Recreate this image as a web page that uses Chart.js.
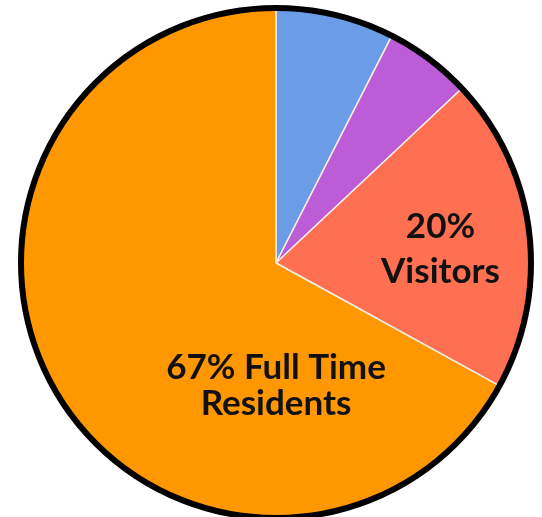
<!DOCTYPE html>
<html>
<head>
<meta charset="utf-8">
<style>
  html, body { margin: 0; padding: 0; background: #fff; }
  #wrap { width: 542px; height: 517px; }
</style>
</head>
<body>
<div id="wrap"><canvas id="_chart" width="542" height="517"></canvas></div>

<script src="https://cdn.jsdelivr.net/npm/chart.js"></script>
<script>
// data, clockwise from 12 o'clock
const groups  = ['Other A', 'Other B', 'Visitors', 'Full Time Residents'];
const shares  = [7.5, 5.5, 20, 67];
const colours = ['#6b9de7', '#bc5dd7', '#ff6f52', '#ff9700'];

// labels written on the slices (index into groups -> lines of text)
const sliceText = {
	2: ['20%', 'Visitors'],
	3: ['67% Full Time', 'Residents']
};

// black rim around the whole pie
const rimPlugin = {
	id: 'rim',
	afterDatasetsDraw(chart) {
		const arc = chart.getDatasetMeta(0).data[0];
		if (!arc) return;
		const ctx = chart.ctx;
		ctx.save();
		ctx.beginPath();
		ctx.arc(arc.x, arc.y, arc.outerRadius, 0, Math.PI * 2);
		ctx.lineWidth = 6;
		ctx.strokeStyle = '#000';
		ctx.stroke();
		ctx.restore();
	}
};

// text on the slices, placed relative to the pie centre and radius
const textPlugin = {
	id: 'sliceText',
	afterDatasetsDraw(chart, args, opts) {
		const arcs = chart.getDatasetMeta(0).data;
		const ctx = chart.ctx;
		ctx.save();
		ctx.fillStyle = '#111';
		ctx.textAlign = 'center';
		ctx.textBaseline = 'alphabetic';
		ctx.font = 'bold 35px Lato';
		for (const i in sliceText) {
			const arc = arcs[i];
			const place = opts.places[i];
			const x = arc.x + place.dx * arc.outerRadius;
			let y = arc.y + place.dy * arc.outerRadius;
			for (const line of sliceText[i]) {
				ctx.fillText(line, x, y);
				y += place.lead;
			}
		}
		ctx.restore();
	}
};

var chart = new Chart(_chart, {
	type: 'pie',
	data: {
		labels: groups,
		datasets: [{
			data: shares,
			backgroundColor: colours,
			borderColor: '#f6eee2',
			borderWidth: 1.5,
			radius: 255
		}]
	},
	options: {
		responsive: false,
		animation: false,
		layout: { padding: { left: 10, top: 9 } },
		plugins: {
			legend: { display: false },
			tooltip: { enabled: false },
			sliceText: {
				places: {
					2: { dx: 0.645, dy: -0.10, lead: 45 },
					3: { dx: 0.0, dy: 0.455, lead: 36 }
				}
			}
		}
	},
	plugins: [rimPlugin, textPlugin]
});
</script>
</body>
</html>
